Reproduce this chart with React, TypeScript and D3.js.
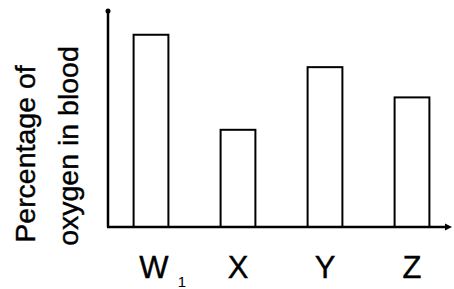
import React from 'react';
import * as d3 from 'd3';

const categories = ['W', 'X', 'Y', 'Z'];
const oxygenPct = [89, 45, 74, 60];
const subscripts = ['1', '', '', ''];
const yTitleLines = ['Percentage of', 'oxygen in blood'];

const WIDTH = 454;
const HEIGHT = 289;

const App: React.FC = () => {
  const axisX = 108;
  const axisY = 227;
  const axisTop = 11;
  const axisRight = 452;

  const x = d3.scaleBand<string>()
    .domain(categories)
    .range([107.5, 455.5])
    .paddingInner(0.6)
    .paddingOuter(0.3);

  const y = d3.scaleLinear().domain([0, 100]).range([axisY, axisTop]);

  const font = 'Liberation Sans, Arial, Helvetica, sans-serif';

  return (
    <svg
      width={WIDTH}
      height={HEIGHT}
      style={{ position: 'absolute', left: 0, top: 0, background: '#fff' }}
    >
      {/* bars */}
      {categories.map((c, i) => (
        <rect
          key={c}
          x={x(c)!}
          y={y(oxygenPct[i])}
          width={x.bandwidth()}
          height={axisY - y(oxygenPct[i])}
          fill="#fff"
          stroke="#000"
          strokeWidth={2}
        />
      ))}

      {/* axes */}
      <line x1={axisX} y1={axisY} x2={axisX} y2={axisTop} stroke="#000" strokeWidth={2.5} />
      <circle cx={axisX} cy={axisTop} r={2.5} fill="#000" />
      <line x1={axisX - 1} y1={axisY} x2={axisRight - 4} y2={axisY} stroke="#000" strokeWidth={2.5} />
      <path
        d={`M${axisRight},${axisY} L${axisRight - 7},${axisY - 3.5} L${axisRight - 7},${axisY + 3.5} Z`}
        fill="#000"
      />

      {/* category labels */}
      {categories.map((c, i) => {
        const cx = x(c)! + x.bandwidth() / 2 + (subscripts[i] ? 3 : 0);
        return (
          <g key={c}>
            <text
              x={cx}
              y={278}
              textAnchor="middle"
              fontFamily={font}
              fontSize={31}
              fill="#000"
              stroke="#000"
              strokeWidth={0.4}
            >
              {c}
            </text>
            {subscripts[i] && (
              <text x={cx + 28} y={287} textAnchor="middle" fontFamily={font} fontSize={15} fill="#000">
                {subscripts[i]}
              </text>
            )}
          </g>
        );
      })}

      {/* y title */}
      {yTitleLines.map((t, i) => (
        <text
          key={t}
          transform={`translate(${i === 0 ? 35 : 78},${i === 0 ? 154 : 146}) rotate(-90)`}
          textAnchor="middle"
          fontFamily={font}
          fontSize={28.5}
          fill="#000"
          stroke="#000"
          strokeWidth={0.4}
        >
          {t}
        </text>
      ))}
    </svg>
  );
};

export default App;
